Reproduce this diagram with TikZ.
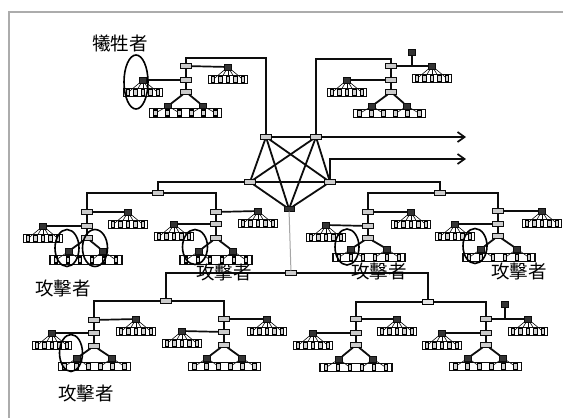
\documentclass[tikz,border=0pt]{standalone}
\usepackage{fontspec}
\newfontfamily\cjk{Noto Sans CJK TC}
\usetikzlibrary{arrows.meta,shapes.geometric}
\definecolor{inkc}{gray}{0.05}
\tikzset{
  swbox/.style={draw=inkc,line width=1.1pt,fill=gray!40,minimum width=11pt,minimum height=5pt,inner sep=0pt,outer sep=0pt},
  darksw/.style={swbox,fill=gray!20,draw=black,line width=1.4pt},
  hubbox/.style={draw=inkc,line width=0.8pt,fill=black!80,minimum width=6.5pt,minimum height=6pt,inner sep=0pt,outer sep=0pt},
  rowbox/.style={draw=inkc,line width=1.1pt,fill=white,inner sep=0pt,outer sep=0pt},
  leaf/.style={draw=black,line width=1.1pt,fill=gray!35,minimum width=3.6pt,minimum height=6pt,inner sep=0pt,outer sep=0pt},
  fan/.style={draw=inkc,line width=0.6pt},
  link/.style={draw=inkc,line width=1.7pt},
  heavy/.style={draw=inkc,line width=1.8pt},
  circled/.style={draw=black,line width=1.6pt,fill=none,ellipse,inner sep=0pt},
  txtlab/.style={font=\cjk\fontsize{18.5}{18.5}\selectfont,text=black,inner sep=0pt},
  frameline/.style={draw=gray!65,line width=2pt}
}
% five-leaf row under a hub: name, hub name, x, y(row centre)
\newcommand{\fiverow}[4]{%
  \node[rowbox,minimum width=39pt,minimum height=8.5pt] (#1box) at (#3,#4) {};
  \foreach \k/\d in {1/-15,2/-7.5,3/0,4/7.5,5/15}{
    \node[leaf] (#1\k) at ({#3+\d},#4) {};
    \draw[fan] (#2) -- (#1\k);
  }%
}
% name, switch x, top y, mid y, low y, left hub x,y, right hub x,y
\newcommand{\subnet}[9]{%
  \node[swbox] (#1t) at (#2,#3) {};
  \node[swbox] (#1m) at (#2,#4) {};
  \node[swbox] (#1l) at (#2,#5) {};
  \node[hubbox] (#1L) at (#6,#7) {};
  \node[hubbox] (#1R) at (#8,#9) {};
  \draw[heavy] (#1t) -- (#1m) -- (#1l);
  \draw[link] (#1t) -- (#1R);
  \draw[link] (#1m) -- (#1L);
  \fiverow{#1P}{#1L}{#6}{#7+12.5}
  \fiverow{#1Q}{#1R}{#8}{#9+12.5}
}
% name, child x1, child x2, child y, row centre y
\newcommand{\lowpart}[5]{%
  \node[hubbox] (#1a) at (#2,#4) {};
  \node[hubbox] (#1b) at (#3,#4) {};
  \draw[heavy] (#1l) -- (#1a);
  \draw[heavy] (#1l) -- (#1b);
  \pgfmathsetmacro{\cxx}{(#2+#3)/2}
  \node[rowbox,minimum width=72pt,minimum height=8.5pt] (#1row) at (\cxx,#5) {};
  \foreach \k/\d/\h in {1/-30/a,2/-18/a,3/-6/a,4/6/b,5/18/b,6/30/b}{
    \node[leaf] (#1z\k) at ({\cxx+\d},#5) {};
    \draw[fan] (#1\h) -- (#1z\k);
  }%
}
\begin{document}
\begin{tikzpicture}[x=1pt,y=-1pt]
\useasboundingbox (0,0) rectangle (563,418);
\fill[white] (0,0) rectangle (563,418);
\draw[frameline] (9,418) -- (9,12) -- (563,12);

% subnets
\subnet{A}{186}{66}{80}{92}{143}{80}{228}{67}
\lowpart{A}{168}{203}{106}{113}
\subnet{B}{391}{66}{80}{92}{347}{80}{432}{66}
\lowpart{B}{372}{407}{106}{113.5}
\subnet{C}{87}{212}{226}{238}{43}{226}{128}{212}
\lowpart{C}{69}{103}{251}{260}
\subnet{D}{216}{212}{224}{238}{174}{224}{258}{211}
\lowpart{D}{199}{233}{251}{260}
\subnet{F}{368}{212}{226}{238}{326}{225}{411}{212}
\lowpart{F}{351}{387}{249}{257.5}
\subnet{G}{498}{211}{224}{236}{455}{224}{542}{211}
\lowpart{G}{481}{517}{249}{257.5}
\subnet{H}{94}{320}{333}{346}{52}{333}{136}{319}
\lowpart{H}{77}{112}{358}{366.5}
\subnet{I}{224}{319}{332}{345}{182}{331}{267}{319}
\lowpart{I}{207}{242}{358}{366.5}
\subnet{J}{356}{319}{333}{345}{313}{333}{397}{319}
\lowpart{J}{339}{373}{359}{367.5}
\subnet{K}{486}{319}{333}{345}{442}{333}{528}{319}
\lowpart{K}{468}{503}{358}{366.5}

% extra hosts
\node[hubbox] (xb) at (412,52) {};
\coordinate (xbj) at (412,66);
\draw[link] (xb) -- (xbj);
\node[hubbox] (xk) at (505,304) {};
\coordinate (xkj) at (505,319);
\draw[link] (xk) -- (xkj);

% core
\node[swbox] (ca) at (266,137) {};
\node[swbox] (cb) at (316,137) {};
\node[swbox] (cc) at (250,182) {};
\node[swbox] (cd) at (330,182) {};
\node[hubbox,minimum width=10pt,minimum height=5pt] (ce) at (289,209) {};
\foreach \u/\v in {ca/cb,ca/cc,ca/cd,ca/ce,cb/cc,cb/cd,cb/ce,cc/cd,cc/ce,cd/ce}{
  \draw[heavy] (\u) -- (\v);
}

% distribution switches
\node[swbox] (dl) at (158,193) {};
\node[swbox] (dr) at (440,193) {};
\node[swbox] (dm) at (291,273) {};
\node[swbox] (el) at (166,301) {};
\node[darksw] (er) at (428,302) {};

\coordinate (j1) at (266,58);
\coordinate (j2) at (316,59);
\draw[link] (ca) -- (j1) -| (At);
\draw[link] (cb) -- (j2) -| (Bt);
\coordinate (ar1) at (466,137);
\coordinate (j3) at (330,159);
\coordinate (ar2) at (466,159);
\draw[link,-{Straight Barb[length=7pt,width=10pt]}] (cb) -- (ar1);
\draw[link,-{Straight Barb[length=7pt,width=10pt]}] (cd) -- (j3) -- (ar2);
\draw[link] (cc) -| (dl);
\draw[link] (cd) -| (dr);
\draw[link] (dl) -| (Ct);
\draw[link] (dl) -| (Dt);
\draw[link] (dr) -| (Ft);
\draw[link] (dr) -| (Gt);
\draw[draw=gray!70,line width=1pt] (ce) -- (dm);
\draw[link] (dm) -| (el);
\draw[link] (dm) -| (er);
\draw[link] (el) -| (Ht);
\draw[link] (el) -| (It);
\draw[link] (er) -| (Jt);
\draw[link] (er) -| (Kt);

% circled hosts
\node[circled,minimum width=24pt,minimum height=54pt] (o1) at (136,82) {};
\node[circled,minimum width=24pt,minimum height=37pt] (o2) at (67,248) {};
\node[circled,minimum width=25pt,minimum height=37pt] (o3) at (95,248) {};
\node[circled,minimum width=25pt,minimum height=35pt] (o4) at (195,247) {};
\node[circled,minimum width=24pt,minimum height=36pt] (o5) at (347,247) {};
\node[circled,minimum width=24pt,minimum height=35pt] (o6) at (475,246) {};
\node[circled,minimum width=23pt,minimum height=37pt] (o7) at (71,353) {};

% labels
\node[txtlab] (t1) at (120,43) {犧牲者};
\node[txtlab] (t2) at (63,288) {攻擊者};
\node[txtlab] (t3) at (86,393) {攻擊者};
\node[txtlab] (t4) at (224,272) {攻擊者};
\node[txtlab] (t5) at (379,271) {攻擊者};
\node[txtlab] (t6) at (519,271) {攻擊者};
\end{tikzpicture}
\end{document}
